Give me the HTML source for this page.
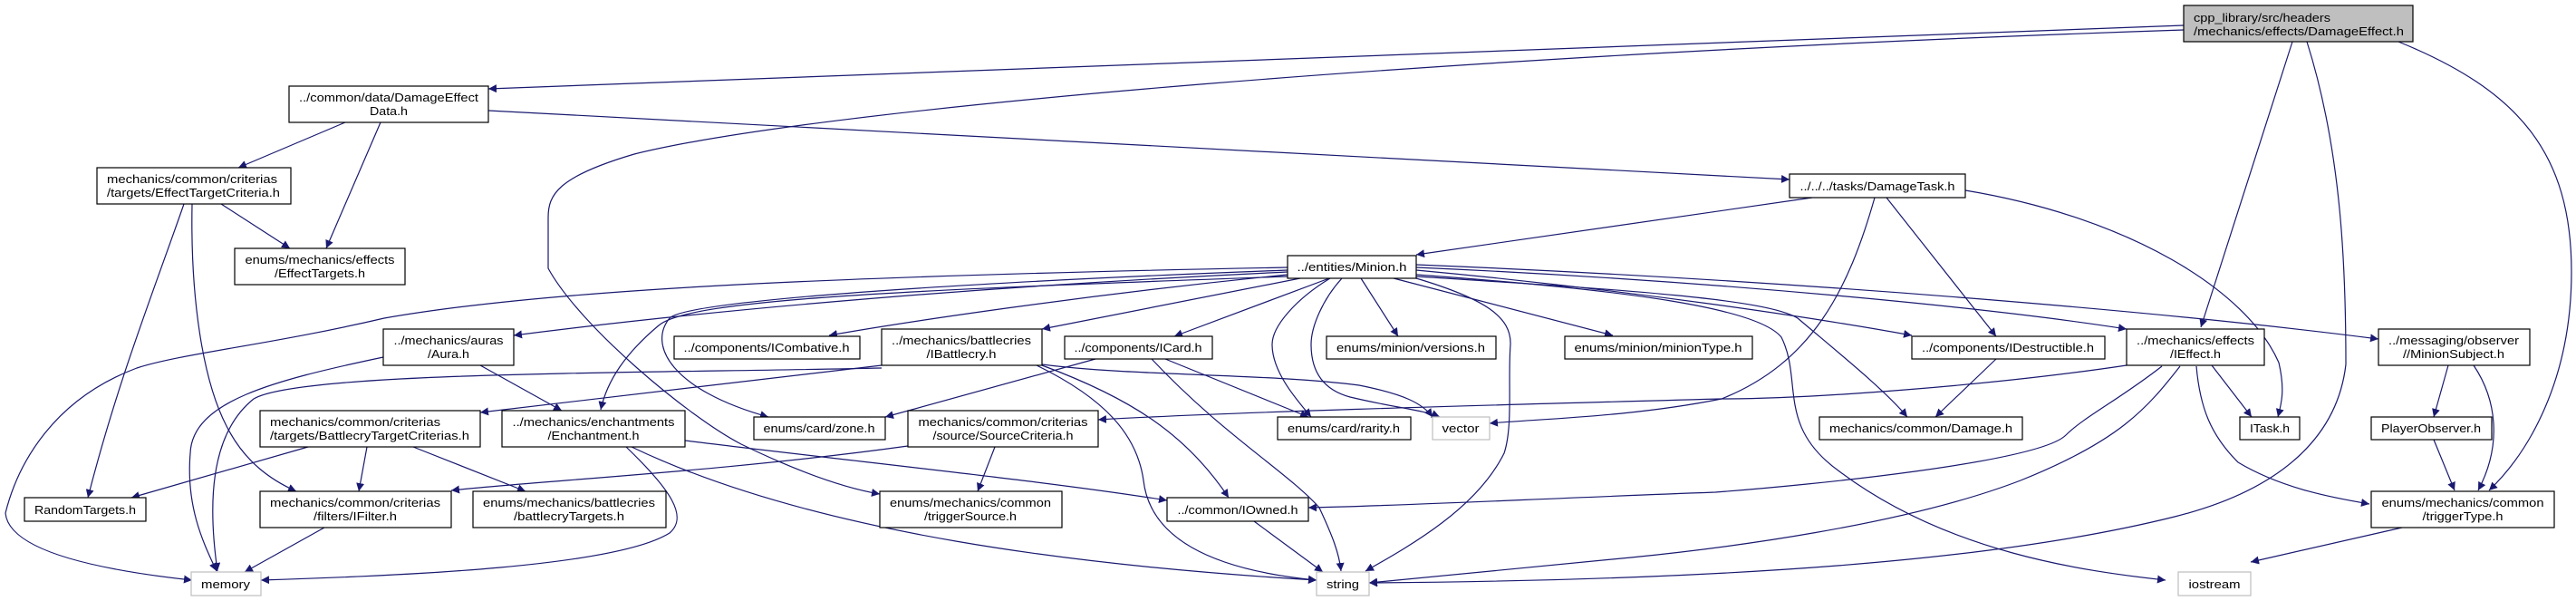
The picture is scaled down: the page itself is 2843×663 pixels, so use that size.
<!DOCTYPE html>
<html><head><meta charset="utf-8"><style>
html,body{margin:0;padding:0;background:#fff;}
svg{display:block;}
text{font-family:"Liberation Sans",sans-serif;font-size:13px;fill:#000;}
.e{fill:none;stroke:#191970;stroke-width:1.2;}
.n{fill:#fff;stroke:#000;stroke-width:1.2;}
.g{fill:#fff;stroke:#bfbfbf;stroke-width:1.2;}
</style></head><body>
<svg width="2843" height="663" viewBox="0 0 2843 663" xmlns="http://www.w3.org/2000/svg">
<defs><marker id="a" viewBox="0 0 10 10" refX="10" refY="5" markerWidth="9" markerHeight="9" markerUnits="userSpaceOnUse" orient="auto"><path d="M0,0 L10,5 L0,10 z" fill="#191970"/></marker></defs>
<g marker-end="url(#a)">
<path class="e" d="M2410,28 L539,98"/>
<path class="e" d="M2410,33 C1600,60 900,120 700,170 C615,195 605,215 605,240 L605,296 C640,360 760,460 818,490 C880,520 930,538 971,545"/>
<path class="e" d="M2530,46 L2429,361"/>
<path class="e" d="M2546,46 C2585,169 2589,300 2589,402 C2580,480 2520,540 2400,570 C2200,620 1900,640 1511,643"/>
<path class="e" d="M2647,46 C2780,100 2838,169 2838,300 C2838,420 2790,500 2747,541"/>
<path class="e" d="M381,135 L263,185"/>
<path class="e" d="M420,135 L360,274"/>
<path class="e" d="M539,122 L1975,198"/>
<path class="e" d="M244,225 L320,274"/>
<path class="e" d="M203,225 C170,320 130,420 97,549"/>
<path class="e" d="M212,225 C210,330 224,420 250,470 C270,510 300,530 327,542"/>
<path class="e" d="M2000,218 L1563,281"/>
<path class="e" d="M2069,218 C2040,320 2000,400 1900,440 C1800,460 1700,462 1644,467"/>
<path class="e" d="M2082,218 L2203,371"/>
<path class="e" d="M2169,210 C2350,240 2480,320 2515,400 C2522,430 2518,445 2514,460"/>
<path class="e" d="M1421,300 C1100,315 800,340 567,370"/>
<path class="e" d="M1421,303 C1200,325 1000,355 915,370"/>
<path class="e" d="M1435,307 L1150,363"/>
<path class="e" d="M1467,307 L1296,371"/>
<path class="e" d="M1502,307 L1543,371"/>
<path class="e" d="M1538,307 L1780,370"/>
<path class="e" d="M1421,305 C1000,320 760,330 727,359 C690,390 670,420 663,452"/>
<path class="e" d="M1421,298 C1100,310 760,330 739,351 C715,380 740,430 848,460"/>
<path class="e" d="M1421,295 C900,305 600,320 424,351 C300,380 200,390 151,406 C60,440 20,510 6,566 C10,610 120,630 212,640"/>
<path class="e" d="M1563,298 C1800,320 2000,350 2110,370"/>
<path class="e" d="M1563,295 C1900,310 2200,340 2347,363"/>
<path class="e" d="M1563,292 C2000,310 2400,345 2625,374"/>
<path class="e" d="M1563,305 C1800,320 1950,330 1984,351 C2030,390 2080,430 2105,460"/>
<path class="e" d="M1563,303 C1800,320 1940,340 1966,372 C1990,420 1960,470 2030,520 C2150,610 2300,630 2390,640"/>
<path class="e" d="M1468,307 C1430,330 1404,360 1404,380 C1404,410 1430,440 1447,460"/>
<path class="e" d="M1481,307 C1460,330 1447,360 1447,380 C1447,410 1460,430 1490,438 C1540,450 1570,452 1589,460"/>
<path class="e" d="M1563,307 C1640,330 1668,350 1667,380 C1664,420 1670,470 1660,500 C1630,560 1560,600 1507,630"/>
<path class="e" d="M423,394 C300,420 212,443 210,500 C205,560 225,600 239,630"/>
<path class="e" d="M530,403 L620,453"/>
<path class="e" d="M973,403 L530,455"/>
<path class="e" d="M973,406 C700,412 330,410 280,440 C230,480 230,560 240,630"/>
<path class="e" d="M1150,402 C1250,415 1400,412 1500,425 C1550,435 1570,445 1581,460"/>
<path class="e" d="M1144,403 C1220,440 1255,480 1262,530 C1270,600 1350,630 1453,640"/>
<path class="e" d="M1150,403 C1250,440 1310,480 1356,549"/>
<path class="e" d="M1209,396 L977,460"/>
<path class="e" d="M1286,396 L1444,460"/>
<path class="e" d="M1271,396 C1350,480 1420,520 1456,560 C1470,590 1478,610 1480,630"/>
<path class="e" d="M2203,396 L2136,460"/>
<path class="e" d="M2347,403 C2200,425 2000,440 1900,440 C1600,448 1350,455 1212,463"/>
<path class="e" d="M2386,404 C2340,440 2300,460 2280,480 C2250,510 2000,535 1893,543 C1700,550 1550,558 1444,560"/>
<path class="e" d="M2406,404 C2370,450 2340,486 2230,530 C2100,580 1900,605 1800,615 C1650,630 1560,638 1511,643"/>
<path class="e" d="M2441,403 L2485,460"/>
<path class="e" d="M2424,404 C2428,450 2440,480 2470,510 C2520,540 2580,550 2615,556"/>
<path class="e" d="M2702,403 L2686,460"/>
<path class="e" d="M2730,403 C2755,440 2762,490 2735,541"/>
<path class="e" d="M2686,485 L2709,541"/>
<path class="e" d="M2651,582 L2484,620"/>
<path class="e" d="M1098,493 L1079,542"/>
<path class="e" d="M1002,492 C800,520 600,530 498,541"/>
<path class="e" d="M340,493 L145,549"/>
<path class="e" d="M405,493 L396,542"/>
<path class="e" d="M456,493 L580,542"/>
<path class="e" d="M358,582 L270,631"/>
<path class="e" d="M691,493 C740,540 760,570 739,588 C680,625 450,635 288,640"/>
<path class="e" d="M756,486 C950,510 1150,530 1288,552"/>
<path class="e" d="M697,493 C900,590 1200,625 1453,640"/>
<path class="e" d="M1384,575 L1460,631"/>
</g>
<rect x="2410" y="6" width="253" height="40" fill="#bfbfbf" stroke="#000" stroke-width="1.2"/>
<text x="2421" y="24" textLength="151" lengthAdjust="spacingAndGlyphs">cpp_library/src/headers</text>
<text x="2421" y="39" textLength="232" lengthAdjust="spacingAndGlyphs">/mechanics/effects/DamageEffect.h</text>
<rect class="n" x="319" y="95" width="220" height="40"/>
<text x="429" y="112" text-anchor="middle" textLength="198" lengthAdjust="spacingAndGlyphs">../common/data/DamageEffect</text>
<text x="429" y="127" text-anchor="middle" textLength="42" lengthAdjust="spacingAndGlyphs">Data.h</text>
<rect class="n" x="107" y="185" width="214" height="40"/>
<text x="118" y="202" textLength="188" lengthAdjust="spacingAndGlyphs">mechanics/common/criterias</text>
<text x="118" y="217" textLength="191" lengthAdjust="spacingAndGlyphs">/targets/EffectTargetCriteria.h</text>
<rect class="n" x="259" y="274" width="188" height="40"/>
<text x="353" y="291" text-anchor="middle" textLength="165" lengthAdjust="spacingAndGlyphs">enums/mechanics/effects</text>
<text x="353" y="306" text-anchor="middle" textLength="100" lengthAdjust="spacingAndGlyphs">/EffectTargets.h</text>
<rect class="n" x="423" y="363" width="144" height="40"/>
<text x="495" y="380" text-anchor="middle" textLength="121" lengthAdjust="spacingAndGlyphs">../mechanics/auras</text>
<text x="495" y="395" text-anchor="middle" textLength="46" lengthAdjust="spacingAndGlyphs">/Aura.h</text>
<rect class="n" x="744" y="371" width="205" height="25"/>
<text x="846" y="388" text-anchor="middle" textLength="183" lengthAdjust="spacingAndGlyphs">../components/ICombative.h</text>
<rect class="n" x="287" y="453" width="243" height="40"/>
<text x="298" y="470" textLength="188" lengthAdjust="spacingAndGlyphs">mechanics/common/criterias</text>
<text x="298" y="485" textLength="220" lengthAdjust="spacingAndGlyphs">/targets/BattlecryTargetCriterias.h</text>
<rect class="n" x="554" y="453" width="202" height="40"/>
<text x="655" y="470" text-anchor="middle" textLength="179" lengthAdjust="spacingAndGlyphs">../mechanics/enchantments</text>
<text x="655" y="485" text-anchor="middle" textLength="101" lengthAdjust="spacingAndGlyphs">/Enchantment.h</text>
<rect class="n" x="832" y="460" width="145" height="25"/>
<text x="904" y="477" text-anchor="middle" textLength="123" lengthAdjust="spacingAndGlyphs">enums/card/zone.h</text>
<rect class="n" x="27" y="549" width="134" height="26"/>
<text x="94" y="567" text-anchor="middle" textLength="112" lengthAdjust="spacingAndGlyphs">RandomTargets.h</text>
<rect class="n" x="287" y="542" width="211" height="40"/>
<text x="392" y="559" text-anchor="middle" textLength="188" lengthAdjust="spacingAndGlyphs">mechanics/common/criterias</text>
<text x="392" y="574" text-anchor="middle" textLength="92" lengthAdjust="spacingAndGlyphs">/filters/IFilter.h</text>
<rect class="n" x="522" y="542" width="213" height="40"/>
<text x="628" y="559" text-anchor="middle" textLength="190" lengthAdjust="spacingAndGlyphs">enums/mechanics/battlecries</text>
<text x="628" y="574" text-anchor="middle" textLength="122" lengthAdjust="spacingAndGlyphs">/battlecryTargets.h</text>
<rect class="g" x="211" y="631" width="77" height="26"/>
<text x="249" y="649" text-anchor="middle" textLength="54" lengthAdjust="spacingAndGlyphs">memory</text>
<rect class="n" x="1421" y="282" width="142" height="25"/>
<text x="1492" y="299" text-anchor="middle" textLength="121" lengthAdjust="spacingAndGlyphs">../entities/Minion.h</text>
<rect class="n" x="973" y="363" width="177" height="40"/>
<text x="1061" y="380" text-anchor="middle" textLength="154" lengthAdjust="spacingAndGlyphs">../mechanics/battlecries</text>
<text x="1061" y="395" text-anchor="middle" textLength="77" lengthAdjust="spacingAndGlyphs">/IBattlecry.h</text>
<rect class="n" x="1175" y="371" width="163" height="25"/>
<text x="1256" y="388" text-anchor="middle" textLength="141" lengthAdjust="spacingAndGlyphs">../components/ICard.h</text>
<rect class="n" x="1464" y="371" width="187" height="25"/>
<text x="1557" y="388" text-anchor="middle" textLength="164" lengthAdjust="spacingAndGlyphs">enums/minion/versions.h</text>
<rect class="n" x="1727" y="371" width="207" height="25"/>
<text x="1830" y="388" text-anchor="middle" textLength="185" lengthAdjust="spacingAndGlyphs">enums/minion/minionType.h</text>
<rect class="n" x="1002" y="453" width="210" height="40"/>
<text x="1107" y="470" text-anchor="middle" textLength="187" lengthAdjust="spacingAndGlyphs">mechanics/common/criterias</text>
<text x="1107" y="485" text-anchor="middle" textLength="155" lengthAdjust="spacingAndGlyphs">/source/SourceCriteria.h</text>
<rect class="n" x="1410" y="460" width="147" height="25"/>
<text x="1483" y="477" text-anchor="middle" textLength="124" lengthAdjust="spacingAndGlyphs">enums/card/rarity.h</text>
<rect class="g" x="1581" y="460" width="63" height="25"/>
<text x="1612" y="477" text-anchor="middle" textLength="41" lengthAdjust="spacingAndGlyphs">vector</text>
<rect class="n" x="971" y="542" width="201" height="40"/>
<text x="1071" y="559" text-anchor="middle" textLength="178" lengthAdjust="spacingAndGlyphs">enums/mechanics/common</text>
<text x="1071" y="574" text-anchor="middle" textLength="102" lengthAdjust="spacingAndGlyphs">/triggerSource.h</text>
<rect class="n" x="1288" y="549" width="156" height="26"/>
<text x="1366" y="567" text-anchor="middle" textLength="133" lengthAdjust="spacingAndGlyphs">../common/IOwned.h</text>
<rect class="g" x="1453" y="631" width="58" height="26"/>
<text x="1482" y="649" text-anchor="middle" textLength="36" lengthAdjust="spacingAndGlyphs">string</text>
<rect class="n" x="1975" y="192" width="194" height="26"/>
<text x="2072" y="210" text-anchor="middle" textLength="171" lengthAdjust="spacingAndGlyphs">../../../tasks/DamageTask.h</text>
<rect class="n" x="2110" y="371" width="213" height="25"/>
<text x="2216" y="388" text-anchor="middle" textLength="190" lengthAdjust="spacingAndGlyphs">../components/IDestructible.h</text>
<rect class="n" x="2347" y="363" width="152" height="40"/>
<text x="2423" y="380" text-anchor="middle" textLength="130" lengthAdjust="spacingAndGlyphs">../mechanics/effects</text>
<text x="2423" y="395" text-anchor="middle" textLength="56" lengthAdjust="spacingAndGlyphs">/IEffect.h</text>
<rect class="n" x="2625" y="363" width="167" height="40"/>
<text x="2708" y="380" text-anchor="middle" textLength="144" lengthAdjust="spacingAndGlyphs">../messaging/observer</text>
<text x="2708" y="395" text-anchor="middle" textLength="112" lengthAdjust="spacingAndGlyphs">//MinionSubject.h</text>
<rect class="n" x="2008" y="460" width="224" height="25"/>
<text x="2120" y="477" text-anchor="middle" textLength="202" lengthAdjust="spacingAndGlyphs">mechanics/common/Damage.h</text>
<rect class="n" x="2472" y="460" width="66" height="25"/>
<text x="2505" y="477" text-anchor="middle" textLength="44" lengthAdjust="spacingAndGlyphs">ITask.h</text>
<rect class="n" x="2617" y="460" width="133" height="25"/>
<text x="2683" y="477" text-anchor="middle" textLength="110" lengthAdjust="spacingAndGlyphs">PlayerObserver.h</text>
<rect class="n" x="2617" y="542" width="202" height="40"/>
<text x="2718" y="559" text-anchor="middle" textLength="179" lengthAdjust="spacingAndGlyphs">enums/mechanics/common</text>
<text x="2718" y="574" text-anchor="middle" textLength="89" lengthAdjust="spacingAndGlyphs">/triggerType.h</text>
<rect class="g" x="2404" y="631" width="80" height="26"/>
<text x="2444" y="649" text-anchor="middle" textLength="57" lengthAdjust="spacingAndGlyphs">iostream</text>
</svg>
</body></html>
